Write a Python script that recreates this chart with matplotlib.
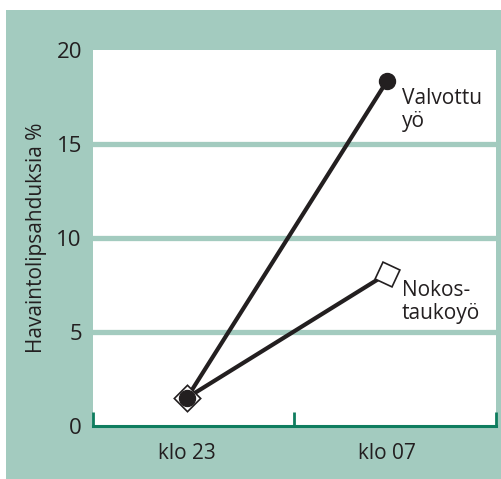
import matplotlib.pyplot as plt
from matplotlib.patches import Rectangle

# data
times = ['klo 23', 'klo 07']
valvottu = [1.5, 18.35]
nokostauko = [1.5, 8.1]
nokos_angles = [0, 20]   # rotation of the open square markers
y_ticks = [0, 5, 10, 15, 20]

teal = '#a3cbbf'
dark_green = '#0f7d5f'
ink = '#231f20'

plt.rcParams['font.family'] = ['Open Sans', 'DejaVu Sans']

fig = plt.figure(figsize=(5.02, 4.79), dpi=100)
fig.add_artist(Rectangle((6 / 502, 0), 1, 1 - 10 / 479, transform=fig.transFigure,
                         facecolor=teal, edgecolor='none', zorder=-10))

ax = fig.add_axes([93 / 502, 53 / 479, 403 / 502, 376 / 479])
ax.set_facecolor('white')

x = list(range(len(times)))

# horizontal bands
for v in y_ticks[1:-1]:
    ax.axhline(v, color=teal, lw=3.8, zorder=1)

# lines
ax.plot(x, nokostauko, color=ink, lw=3, zorder=2, solid_capstyle='butt')
ax.plot(x, valvottu, color=ink, lw=3, zorder=3, solid_capstyle='butt')

# markers
for xi, yi, ang in zip(x, nokostauko, nokos_angles):
    ax.plot(xi, yi, marker=(4, 0, ang), ms=19, mfc='white', mec=ink, mew=1.2, zorder=4)
ax.plot(x, valvottu, 'o', ms=11.5, color=ink, zorder=5)

# end labels
ax.text(1.075, valvottu[1] - 1.55, 'Valvottu\nyö', fontsize=15, color=ink,
        va='center', ha='left', linespacing=1.15)
ax.text(1.075, nokostauko[1] - 1.5, 'Nokos-\ntaukoyö', fontsize=15, color=ink,
        va='center', ha='left', linespacing=1.15)

ax.set_xlim(-0.47, 1.545)
ax.set_ylim(0, 20)

for s in ['top', 'left', 'right']:
    ax.spines[s].set_visible(False)
ax.spines['bottom'].set_color(dark_green)
ax.spines['bottom'].set_linewidth(2.2)

ax.set_xticks([-0.47, 0.535, 1.545])
ax.set_xticklabels([])
ax.tick_params(axis='x', which='major', direction='in', length=10, width=2,
               color=dark_green)
ax.set_xticks(x, minor=True)
ax.set_xticklabels(times, minor=True, fontsize=15, color=ink)
ax.tick_params(axis='x', which='minor', length=0, pad=12)

ax.set_yticks(y_ticks)
ax.set_yticklabels([str(v) for v in y_ticks], fontsize=16, color=ink)
ax.tick_params(axis='y', length=0, pad=8)
ax.set_ylabel('Havaintolipsahduksia %', fontsize=15, color=ink, labelpad=7)

fig.savefig('out.png', dpi=100)
